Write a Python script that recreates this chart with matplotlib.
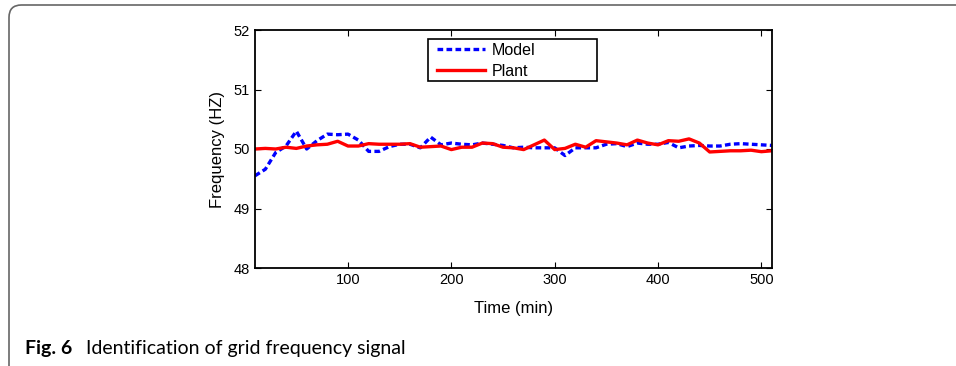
import matplotlib.pyplot as plt
from matplotlib.patches import FancyBboxPatch, Rectangle

# time axis, one sample every 10 min
time_min = list(range(10, 520, 10))

model_hz = [49.55, 49.66, 49.94, 50.05, 50.30, 50.00, 50.14, 50.25, 50.24, 50.25,
            50.15, 49.96, 49.96, 50.04, 50.08, 50.08, 50.02, 50.20, 50.07, 50.10,
            50.08, 50.07, 50.10, 50.08, 50.06, 50.02, 50.03, 50.02, 50.02, 50.02,
            49.89, 50.02, 50.02, 50.02, 50.08, 50.09, 50.04, 50.10, 50.08, 50.08,
            50.11, 50.02, 50.05, 50.06, 50.05, 50.05, 50.08, 50.09, 50.08, 50.07,
            50.06]

plant_hz = [50.00, 50.01, 50.00, 50.03, 50.01, 50.05, 50.07, 50.08, 50.13, 50.05,
            50.05, 50.09, 50.08, 50.08, 50.08, 50.09, 50.03, 50.04, 50.05, 49.99,
            50.03, 50.03, 50.10, 50.09, 50.03, 50.02, 49.99, 50.07, 50.15, 49.99,
            50.01, 50.08, 50.03, 50.14, 50.12, 50.10, 50.07, 50.15, 50.10, 50.07,
            50.14, 50.13, 50.17, 50.10, 49.95, 49.96, 49.97, 49.97, 49.98, 49.955,
            49.97]

x_ticks = [100, 200, 300, 400, 500]
y_ticks = [48, 49, 50, 51, 52]

plt.rcParams['font.family'] = ['Liberation Sans', 'DejaVu Sans']

W, H = 956, 366
fig = plt.figure(figsize=(W / 100, H / 100), dpi=100)

# rounded frame around the whole figure (open to the right / bottom)
frame = FancyBboxPatch((9 / W, -20 / H), 980 / W, 351 / H + 20 / H + 10 / H,
                       boxstyle="round,pad=0,rounding_size=0.013",
                       transform=fig.transFigure, fill=False,
                       edgecolor='#666666', linewidth=1.2, mutation_aspect=W / H)
fig.patches.append(frame)

ax = fig.add_axes([255 / W, 1 - 268 / H, (771.7 - 255) / W, (268 - 30) / H])

ax.plot(time_min, model_hz, color='#0000ff', linestyle='--', dashes=(1.7, 1.0),
        linewidth=2.4, label='Model')
ax.plot(time_min, plant_hz, color='#ff0000', linewidth=2.4, label='Plant')

ax.set_xlim(10, 510)
ax.set_ylim(48, 52)
ax.set_xticks(x_ticks)
ax.set_yticks(y_ticks)
ax.tick_params(direction='in', top=True, right=True, labelsize=10.5, length=4)
for s in ax.spines.values():
    s.set_linewidth(1.3)

ax.set_xlabel('Time (min)', fontsize=12, labelpad=10)
ax.set_ylabel('Frequency (HZ)', fontsize=12, labelpad=6)

# legend (MATLAB style box is wider than its entries)
leg = ax.legend(loc='upper left', bbox_to_anchor=((437 - 255) / (771.7 - 255), 1 - 13 / 238),
                fontsize=11.5, frameon=False, borderaxespad=0, handlelength=3.0,
                handletextpad=0.4, labelspacing=0.35, borderpad=0.0)
box = Rectangle((428 / W, 1 - 81 / H), 169 / W, 42 / H, transform=fig.transFigure,
                fill=False, edgecolor='black', linewidth=1.2, zorder=5)
fig.patches.append(box)

# caption
fig.text(25 / W, 1 - 354 / H, 'Fig. 6', fontsize=14, fontweight='bold',
         family=['Lato', 'DejaVu Sans'], va='baseline')
fig.text(86 / W, 1 - 354 / H, 'Identification of grid frequency signal', fontsize=14,
         family=['Lato', 'DejaVu Sans'], va='baseline')

plt.savefig('out.png', dpi=100)
